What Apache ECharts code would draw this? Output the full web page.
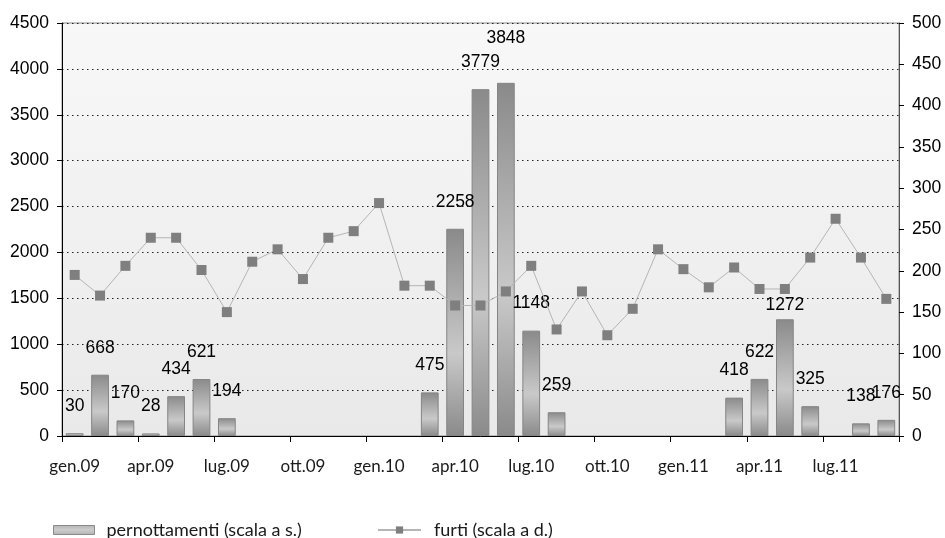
<!DOCTYPE html>
<html>
<head>
<meta charset="utf-8">
<script src="https://cdn.jsdelivr.net/npm/echarts@6/dist/echarts.min.js"></script>
<style>html,body{margin:0;padding:0;background:#fff}#c{width:945px;height:538px}</style>
</head>
<body>
<div id="c"></div>
<script>
const months = ['gen.09','feb.09','mar.09','apr.09','mag.09','giu.09','lug.09','ago.09','set.09','ott.09','nov.09','dic.09',
  'gen.10','feb.10','mar.10','apr.10','mag.10','giu.10','lug.10','ago.10','set.10','ott.10','nov.10','dic.10',
  'gen.11','feb.11','mar.11','apr.11','mag.11','giu.11','lug.11','ago.11','set.11'];
const pernottamenti = [30,668,170,28,434,621,194,null,null,null,null,null,
  null,null,475,2258,3779,3848,1148,259,null,null,null,null,
  null,null,418,622,1272,325,null,138,176];
const furti = [195,170,206,240,240,201,150,211,226,190,240,248,
  282,182,182,158,158,175,206,129,175,122,154,226,
  202,180,204,178,178,216,263,216,166];
const leftTicks = {min:0, max:4500, interval:500};
const rightTicks = {min:0, max:500, interval:50};
const labelDistance = {17: 36, 28: 5};

const numFont = '"Liberation Sans", Arial, sans-serif';
const txtFont = 'Lato, "Liberation Sans", sans-serif';

const barGrad = new echarts.graphic.LinearGradient(0,0,0,1,[
  {offset:0,color:'#8a8a8a'},{offset:0.6,color:'#c9c9c9'},{offset:1,color:'#8a8a8a'}]);
const swatchGrad = new echarts.graphic.LinearGradient(0,0,0,1,[
  {offset:0,color:'#b4b4b4'},{offset:0.5,color:'#cdcdcd'},{offset:1,color:'#b0b0b0'}]);

const barData = pernottamenti.map((v,i)=>{
  const o = {value:v};
  if (labelDistance[i] !== undefined) o.label = {distance: labelDistance[i]};
  return o;
});

const chart = echarts.init(document.getElementById('c'));
chart.setOption({
  animation:false,
  backgroundColor:'#ffffff',
  grid:{left:62,right:46,top:23,bottom:102,show:true,borderColor:'#8c8c8c',borderWidth:1,
    backgroundColor:new echarts.graphic.LinearGradient(0,0,0,1,[{offset:0,color:'#f8f8f8'},{offset:1,color:'#e9e9e9'}])},
  legend:[
    {data:[{name:'pernottamenti (scala a s.)',icon:'rect',itemStyle:{color:swatchGrad,borderColor:'#8a8a8a',borderWidth:1}}],
     left:53,top:521,padding:0,itemWidth:41,itemHeight:9,
     textStyle:{fontFamily:txtFont,fontSize:18,color:'#1a1a1a',padding:[0,0,0,7]}},
    {data:['furti (scala a d.)'],left:377,top:521,padding:0,itemWidth:43,itemHeight:9,
     textStyle:{fontFamily:txtFont,fontSize:18,color:'#1a1a1a',padding:[0,0,0,8]}}
  ],
  xAxis:{type:'category',data:months,boundaryGap:true,
    axisLine:{lineStyle:{color:'#000',width:1}},
    axisTick:{show:true,interval:2,length:6,lineStyle:{color:'#000'}},
    axisLabel:{interval:2,margin:22,fontFamily:txtFont,fontSize:17,color:'#1a1a1a'},
    splitLine:{show:false}},
  yAxis:[
    {type:'value',position:'left',min:leftTicks.min,max:leftTicks.max,interval:leftTicks.interval,
     axisLine:{show:true,lineStyle:{color:'#000'}},
     axisTick:{show:true,length:5,lineStyle:{color:'#000'}},
     axisLabel:{margin:13,fontFamily:numFont,fontSize:17.5,color:'#000',formatter:v=>String(v)},
     splitLine:{show:true,lineStyle:{color:'#222',type:[1.5,3.5],width:1}}},
    {type:'value',position:'right',min:rightTicks.min,max:rightTicks.max,interval:rightTicks.interval,
     axisLine:{show:true,lineStyle:{color:'#555'}},
     axisTick:{show:true,length:5,lineStyle:{color:'#000'}},
     axisLabel:{margin:13,fontFamily:numFont,fontSize:17.5,color:'#000',formatter:v=>String(v)},
     splitLine:{show:false}}
  ],
  series:[
    {name:'pernottamenti (scala a s.)',type:'bar',yAxisIndex:0,data:barData,barWidth:'70%',
     itemStyle:{color:barGrad,borderColor:'#858585',borderWidth:1},
     label:{show:true,position:'top',distance:18,fontFamily:numFont,fontSize:17.5,color:'#000'}},
    {name:'furti (scala a d.)',type:'line',yAxisIndex:1,data:furti,
     symbol:'rect',symbolSize:10,showSymbol:true,
     lineStyle:{color:'#b5b5b5',width:1},
     itemStyle:{color:'#7f7f7f',borderWidth:0}}
  ]
});
</script>
</body>
</html>
